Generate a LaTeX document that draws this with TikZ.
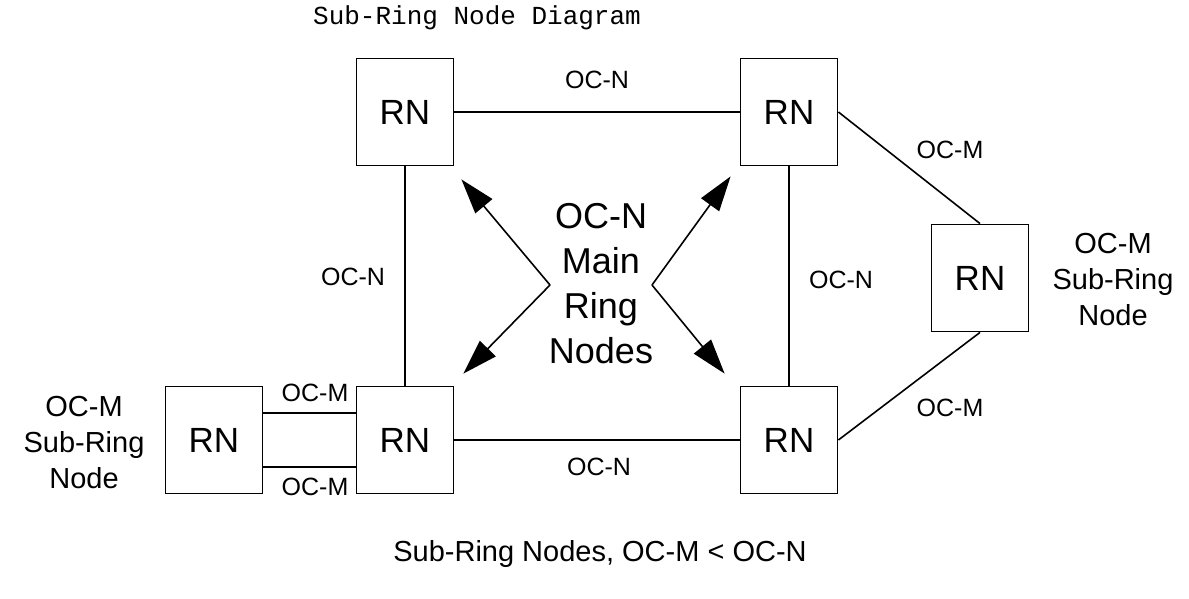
\documentclass[tikz,border=0pt]{standalone}
\usepackage{fontspec}
\setmainfont{Liberation Sans}
\setmonofont{Liberation Mono}
\usetikzlibrary{positioning,arrows.meta}

\begin{document}
\begin{tikzpicture}[x=1pt,y=-1pt,
 rn/.style={draw,line width=1.8pt,minimum width=97pt,minimum height=107pt,font=\fontsize{35}{38}\selectfont},
 ln/.style={line width=1.6pt},
 lb/.style={font=\fontsize{25}{28}\selectfont},
 side/.style={align=center,font=\fontsize{29}{36}\selectfont},
 a/.style={-{Triangle[length=35pt,width=22pt]},line width=1.6pt}]
\useasboundingbox (0,0) rectangle (1189,598);
\node[font=\ttfamily\fontsize{26}{30}\selectfont] (title) at (477,18) {Sub-Ring Node Diagram};
% main ring
\node[rn] (tl) at (405,112) {RN};
\node[rn] (tr) at (789,112) {RN};
\node[rn] (bc) at (405,440) {RN};
\node[rn] (br) at (789,440) {RN};
% sub-ring nodes
\node[rn] (sr) at (980,278) {RN};
\node[rn] (bl) at (214,440) {RN};
\draw[ln] (tl) -- (tr);
\draw[ln] (bc) -- (br);
\draw[ln] (tl) -- (bc);
\draw[ln] (tr) -- (br);
\draw[ln] (tr.east) -- (sr.north);
\draw[ln] (br.east) -- (sr.south);
\draw[ln] ([yshift=27pt]bl.east) -- ([yshift=27pt]bc.west);
\draw[ln] ([yshift=-27pt]bl.east) -- ([yshift=-27pt]bc.west);
\node[lb] (nt) at (597,80) {OC-N};
\node[lb] (nb) at (599,467) {OC-N};
\node[lb] (nl) at (353,277) {OC-N};
\node[lb] (nr) at (841,280) {OC-N};
\node[lb] (mt) at (950,150) {OC-M};
\node[lb] (mb) at (950,408) {OC-M};
\node[lb] (m1) at (315,393) {OC-M};
\node[lb] (m2) at (315,487) {OC-M};
% main ring label with arrows
\node[align=center,font=\fontsize{36}{45}\selectfont] (main) at (601,284) {OC-N\\Main\\Ring\\Nodes};
\coordinate (cl) at (550,285);
\coordinate (cr) at (652,285);
\draw[a] (cl) -- ([shift={(7,13)}]tl.south east);
\draw[a] (cl) -- ([shift={(9,-12)}]bc.north east);
\draw[a] (cr) -- ([shift={(-9,10)}]tr.south west);
\draw[a] (cr) -- ([shift={(-15,-12)}]br.north west);
\node[side] (sl) at (84,443) {OC-M\\Sub-Ring\\Node};
\node[side] (sright) at (1113,280) {OC-M\\Sub-Ring\\Node};
\node[font=\fontsize{29}{34}\selectfont] (cap) at (600,554) {Sub-Ring Nodes, OC-M < OC-N};
\end{tikzpicture}
\end{document}
